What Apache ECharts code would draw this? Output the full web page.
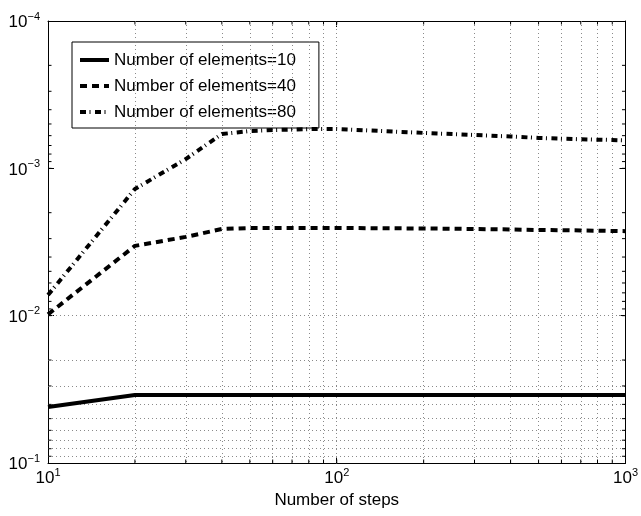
<!DOCTYPE html>
<html>
<head>
<meta charset="utf-8">
<script src="https://cdn.jsdelivr.net/npm/echarts@6/dist/echarts.min.js"></script>
<style>
html,body{margin:0;padding:0;background:#fff;}
#chart{width:641px;height:516px;}
</style>
</head>
<body>
<div id="chart"></div>
<script>
var steps = [10,20,30,40,50,60,70,80,90,100,200,300,400,500,600,700,800,900,1000];
var err10 = [0.0417,0.0345,0.0345,0.0345,0.0345,0.0345,0.0345,0.0345,0.0345,0.0345,0.0345,0.0345,0.0345,0.0345,0.0345,0.0345,0.0345,0.0345,0.0345];
var err40 = [0.0098,0.00336,0.00292,0.00258,0.00254,0.00254,0.00254,0.00254,0.00254,0.00254,0.00256,0.00258,0.0026,0.00262,0.00263,0.00264,0.00265,0.00266,0.00267];
var err80 = [0.00724,0.00138,0.000865,0.000585,0.000558,0.00055,0.000546,0.000542,0.000541,0.000541,0.000575,0.000594,0.000608,0.000622,0.000629,0.000635,0.000639,0.000642,0.000646];
var seriesNames = ['Number of elements=10','Number of elements=40','Number of elements=80'];
var xGridValues = [20,30,40,50,60,70,80,90,100,200,300,400,500,600,700,800,900];
var yGridValues = [2e-4,3e-4,4e-4,5e-4,6e-4,7e-4,8e-4,9e-4,1e-3,2e-3,3e-3,4e-3,5e-3,6e-3,7e-3,8e-3,9e-3,1e-2,2e-2,3e-2,4e-2,5e-2,6e-2,7e-2,8e-2,9e-2];

function pairs(xs, ys){ return xs.map(function(x,i){return [x, ys[i]];}); }
function expOf(v){ return Math.round(Math.log(v)/Math.LN10); }

var FONT = 'Liberation Sans';
var richLabel = {
  b:{fontFamily:FONT,fontSize:17,color:'#000',lineHeight:20,verticalAlign:'bottom'},
  s:{fontFamily:FONT,fontSize:11,color:'#000',lineHeight:12,verticalAlign:'top'}
};

var gridLine = {color:'#8a8a8a',width:1,type:[1,3]};

var markLineData = xGridValues.map(function(v){return {xAxis:v};})
  .concat(yGridValues.map(function(v){return {yAxis:v};}));

// minor ticks drawn through the axes' scales
var minorTickData = xGridValues.map(function(v){return [v, 1e-2, 0];})
  .concat(yGridValues.map(function(v){return [100, v, 1];}));

var chart = echarts.init(document.getElementById('chart'), null, {renderer:'canvas'});
var axisCommonX = {
  type:'log', logBase:10, min:10, max:1000,
  axisLine:{show:true,lineStyle:{color:'#000',width:1}},
  axisTick:{show:true,inside:true,length:6,lineStyle:{color:'#000'}},
  splitLine:{show:false}, minorTick:{show:false}
};
var axisCommonY = {
  type:'log', logBase:10, min:1e-4, max:1e-1, inverse:true,
  axisLine:{show:true,lineStyle:{color:'#000',width:1}},
  axisTick:{show:true,inside:true,length:6,lineStyle:{color:'#000'}},
  splitLine:{show:false}, minorTick:{show:false}
};
var option = {
  animation:false,
  backgroundColor:'#fff',
  grid:{left:48,right:11,top:21,bottom:53,containLabel:false},
  xAxis:[
    Object.assign({}, axisCommonX, {
      position:'bottom',
      name:'Number of steps', nameLocation:'middle', nameGap:28,
      nameTextStyle:{fontFamily:FONT,fontSize:17,color:'#000'},
      axisLabel:{show:true,margin:4,
        formatter:function(v){var e=expOf(v);return '{b|10}{s|'+e+'}';},
        rich:richLabel}
    }),
    Object.assign({}, axisCommonX, {position:'top', axisLabel:{show:false}})
  ],
  yAxis:[
    Object.assign({}, axisCommonY, {
      position:'left',
      axisLabel:{show:true,margin:8,
        formatter:function(v){var e=expOf(v);return '{b|10}{s|'+(e<0?'−'+(-e):e)+'}';},
        rich:richLabel}
    }),
    Object.assign({}, axisCommonY, {position:'right', axisLabel:{show:false}})
  ],
  legend:{
    orient:'vertical', left:72, top:42,
    backgroundColor:'#fff', borderColor:'#000', borderWidth:1, borderRadius:0,
    padding:[8,23,6,6], itemGap:6, itemWidth:29, itemHeight:20,
    itemStyle:{opacity:0},
    lineStyle:{width:4},
    textStyle:{fontFamily:FONT,fontSize:17,color:'#000',lineHeight:20},
    data:seriesNames
  },
  series:[
    {
      name:'grid', type:'line', data:[], silent:true,
      markLine:{silent:true,symbol:['none','none'],label:{show:false},
        lineStyle:gridLine, emphasis:{disabled:true}, animation:false,
        data:markLineData}
    },
    {
      name:'minorTicks', type:'custom', silent:true, z:6,
      data:minorTickData,
      renderItem:function(params, api){
        var cs = params.coordSys;
        var L = 3.5;
        var kind = api.value(2);
        var lines = [];
        if (kind === 0) {
          var px = api.coord([api.value(0), api.value(1)])[0];
          lines.push([px, cs.y + cs.height, px, cs.y + cs.height - L]);
          lines.push([px, cs.y, px, cs.y + L]);
        } else {
          var py = api.coord([api.value(0), api.value(1)])[1];
          lines.push([cs.x, py, cs.x + L, py]);
          lines.push([cs.x + cs.width, py, cs.x + cs.width - L, py]);
        }
        return {type:'group', children: lines.map(function(l){
          return {type:'line', shape:{x1:l[0],y1:l[1],x2:l[2],y2:l[3]}, style:{stroke:'#000',lineWidth:1}};
        })};
      }
    },
    {name:seriesNames[0],type:'line',data:pairs(steps,err10),symbol:'none',showSymbol:false,
      lineStyle:{color:'#000',width:4,type:'solid'},itemStyle:{color:'#000'},z:5},
    {name:seriesNames[1],type:'line',data:pairs(steps,err40),symbol:'none',showSymbol:false,
      lineStyle:{color:'#000',width:4,type:[7,5],cap:'butt'},itemStyle:{color:'#000'},z:5},
    {name:seriesNames[2],type:'line',data:pairs(steps,err80),symbol:'none',showSymbol:false,
      lineStyle:{color:'#000',width:4,type:[6,3.5,1,4.5],cap:'butt'},itemStyle:{color:'#000'},z:5}
  ]
};
chart.setOption(option);
</script>
</body>
</html>
